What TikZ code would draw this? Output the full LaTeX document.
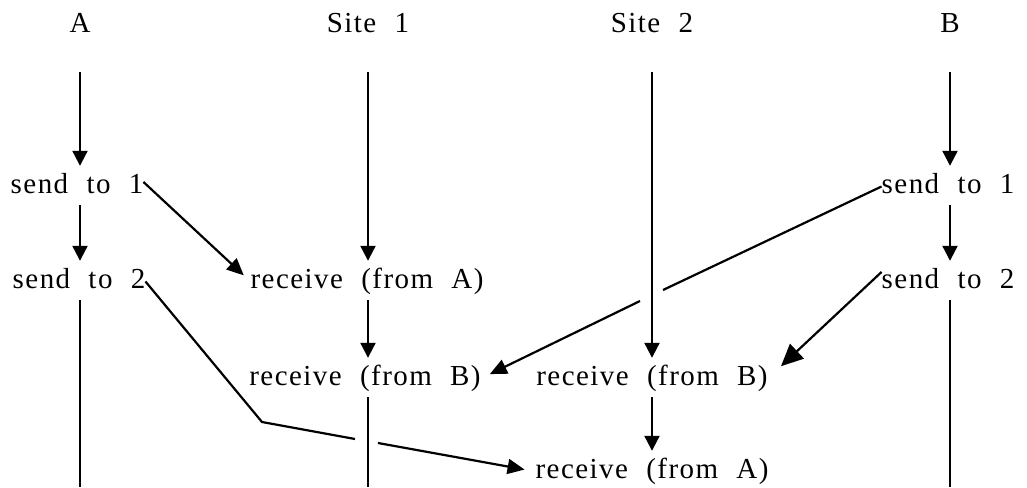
\documentclass[tikz,border=0pt]{standalone}
\usepackage{fontspec}
\setmainfont{Liberation Serif}[LetterSpace=5,WordSpace=2.1]
\usetikzlibrary{arrows.meta,calc}
\begin{document}
\begin{tikzpicture}[x=1pt,y=-1pt,
  lbl/.style={font=\fontsize{29}{34}\selectfont, inner sep=0pt, text height=19pt, text depth=6pt, anchor=base},
  ttl/.style={lbl},
  flow/.style={line width=2.2pt, -{Triangle[length=15pt,width=15pt]}, shorten <=6pt, shorten >=8pt},
  topflow/.style={flow, shorten <=33pt},
  rail/.style={line width=2.2pt, shorten <=6pt},
  plain/.style={line width=2.2pt},
  msg/.style={line width=2.2pt, -{Triangle[length=17pt,width=15pt]}},
  bigmsg/.style={line width=2.2pt, -{Triangle[length=22pt,width=20pt]}}
]
\useasboundingbox (0,0) rectangle (1027,487);

% titles
\node[ttl] (tA) at (80,33) {A};
\node[ttl] (t1) at (368,33) {Site 1};
\node[ttl] (t2) at (652,33) {Site 2};
\node[ttl] (tB) at (950,33) {B};

% events
\node[lbl] (aS1) at (77,193) {send to 1};
\node[lbl] (aS2) at (79,288) {send to 2};
\node[lbl] (s1rA) at (367,288) {receive (from A)};
\node[lbl] (s1rB) at (365,385) {receive (from B)};
\node[lbl] (s2rB) at (652,385) {receive (from B)};
\node[lbl] (s2rA) at (652,478) {receive (from A)};
\node[lbl] (bS1) at (948,193) {send to 1};
\node[lbl] (bS2) at (948,288) {send to 2};

\coordinate (endA) at (80,487);
\coordinate (end1) at (368,487);
\coordinate (endB) at (950,487);

% process lines
\draw[topflow] (tA.south) -- (tA |- aS1.north);
\draw[flow] (tA |- aS1.south) -- (tA |- aS2.north);
\draw[rail] (tA |- aS2.south) -- (endA);

\draw[topflow] (t1.south) -- (t1 |- s1rA.north);
\draw[flow] (t1 |- s1rA.south) -- (t1 |- s1rB.north);
\draw[rail] (t1 |- s1rB.south) -- (end1);

\draw[topflow] (t2.south) -- (t2 |- s2rB.north);
\draw[flow] (t2 |- s2rB.south) -- (t2 |- s2rA.north);

\draw[topflow] (tB.south) -- (tB |- bS1.north);
\draw[flow] (tB |- bS1.south) -- (tB |- bS2.north);
\draw[rail] (tB |- bS2.south) -- (endB);

% messages
\draw[msg, shorten >=9pt] ([yshift=4.5pt]aS1.east) -- (s1rA.west);

\coordinate (bend) at (262,422);
\coordinate (cutL) at (355,439);
\coordinate (cutR) at (378,443);
\draw[plain] (aS2.east) -- (bend) -- (cutL);
\draw[msg, shorten >=11pt] (cutR) -- (s2rA.west);

\coordinate (cutBa) at (663,290);
\coordinate (cutBb) at (640,301);
\draw[plain] (bS1.west) -- (cutBa);
\draw[msg, shorten >=10pt] (cutBb) -- (s1rB.east);

\draw[bigmsg, shorten >=18pt] ([yshift=9.5pt]bS2.west) -- (s2rB.east);
\end{tikzpicture}
\end{document}
